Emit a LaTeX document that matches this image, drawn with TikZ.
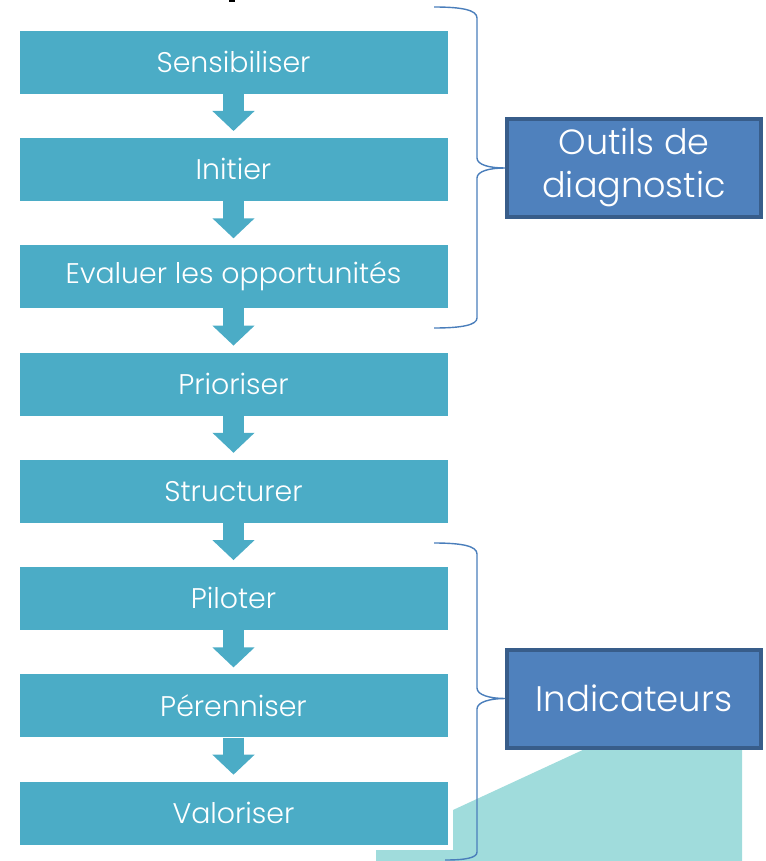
\documentclass[tikz,border=0pt]{standalone}
\usepackage{fontspec}
\setmainfont{Poppins}[UprightFont=* Light]
\usetikzlibrary{arrows.meta}
\definecolor{stepteal}{HTML}{4BACC6}
\definecolor{sideblue}{HTML}{4F81BD}
\definecolor{sideborder}{HTML}{385D8A}
\definecolor{lightteal}{HTML}{A0DCDC}
\definecolor{bracecol}{HTML}{4A7EBB}
\tikzset{
  stepbox/.style={fill=stepteal, draw=white, line width=0.6pt, minimum width=429pt, minimum height=64pt,
    inner sep=0pt, text=white, font=\fontsize{28.4}{33}\selectfont},
  sidebox/.style={fill=sideblue, draw=sideborder, line width=4pt, minimum width=254pt, minimum height=98pt,
    inner sep=0pt, text=white, align=center, font=\fontsize{35}{43}\selectfont},
  blockarrow/.style={stepteal, line width=21pt, -{Triangle[width=41pt,length=20pt]}},
  bracket/.style={bracecol, line width=1.4pt}
}
\begin{document}
\begin{tikzpicture}[x=1pt,y=-1pt]
\useasboundingbox (0,0) rectangle (765,861);
% fragment at top
\fill[black] (229,0) rectangle (235,2.5);
% light teal backdrop
\fill[lightteal] (742,748) -- (587,748) -- (453,810) -- (453,850) -- (376,850) -- (376,861) -- (742,861) -- cycle;
% steps
\node[stepbox] (s1) at (233.5,62) {Sensibiliser};
\node[stepbox] (s2) at (233.5,169.3) {Initier};
\node[stepbox] (s3) at (233.5,276.6) {Evaluer les opportunités};
\node[stepbox] (s4) at (233.5,383.9) {Prioriser};
\node[stepbox] (s5) at (233.5,491.1) {Structurer};
\node[stepbox] (s6) at (233.5,598.4) {Piloter};
\node[stepbox] (s7) at (233.5,705.7) {Pérenniser};
\node[stepbox] (s8) at (233.5,813) {Valoriser};
% block arrows
\foreach \a/\b in {s1/s2,s2/s3,s3/s4,s4/s5,s5/s6,s6/s7,s7/s8}
  \draw[blockarrow] ([yshift=0.5pt]\a.south) -- ([yshift=6pt]\b.north);
% side boxes
\node[sidebox] (outils) at (634,168) {Outils de\\diagnostic};
\node[sidebox, font=\fontsize{35.5}{43}\selectfont] (indic) at (634,698.5) {Indicateurs};
% braces
\coordinate (b1a) at (434,7);
\coordinate (b1b) at (434,328);
\coordinate (b2a) at (434,543);
\coordinate (b2b) at (445,860);
\draw[bracket] (b1a) .. controls (462,7) and (477,10) .. (477,18) -- (477,158)
  .. controls (477,165) and (490,168) .. (outils.west)
  .. controls (490,168) and (477,171) .. (477,178) -- (477,318)
  .. controls (477,325) and (462,328) .. (b1b);
\draw[bracket] (b2a) .. controls (462,543) and (477,546) .. (477,554) -- (477,688)
  .. controls (477,695) and (490,698.5) .. (indic.west)
  .. controls (490,698.5) and (477,702) .. (477,709) -- (477,852)
  .. controls (477,858) and (465,860) .. (b2b);
\end{tikzpicture}
\end{document}
